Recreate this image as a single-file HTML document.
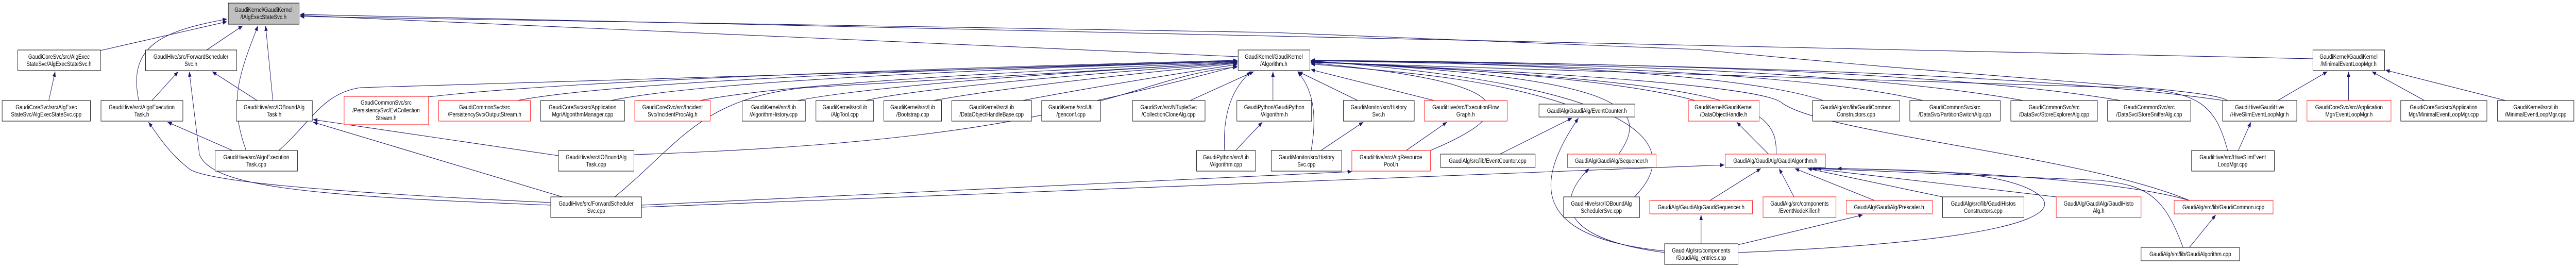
<!DOCTYPE html>
<html><head><meta charset="utf-8"><style>
html,body{margin:0;padding:0;background:#fff;width:100%;height:100%;overflow:hidden;}
svg{display:block;overflow:hidden;width:100vw;height:100vh;}
text{font-family:"Liberation Sans",Arial,sans-serif;font-size:12px;fill:#000;text-anchor:middle;}
.e{fill:none;stroke:#191970;stroke-width:1.1;marker-end:url(#a);}
.n{fill:#fff;stroke:#000;stroke-width:1;}
.r{fill:#fff;stroke:#ff0000;stroke-width:1;}
.g{fill:#bfbfbf;stroke:#000;stroke-width:1;}
</style></head><body>
<svg viewBox="0 0 6071 520" preserveAspectRatio="none" xmlns="http://www.w3.org/2000/svg">
<defs><marker id="a" markerUnits="userSpaceOnUse" markerWidth="11" markerHeight="8" refX="10" refY="4" orient="auto"><path d="M0,0 L10,4 L0,8 z" fill="#191970"/></marker></defs>
<g>
<path class="e" d="M237,98 L535,42"/>
<path class="e" d="M327,195 C300,90 380,60 535,37"/>
<path class="e" d="M487,97 L572,50"/>
<path class="e" d="M580,292 C540,200 560,150 608,50"/>
<path class="e" d="M643,195 L626,50"/>
<path class="e" d="M2918,110 L707,30"/>
<path class="e" d="M5451,114 L5000,106 L4000,88 L3000,70 L707,28"/>
<path class="e" d="M5250,195 C5200,170 4800,160 4000,96 L3000,63 L707,32"/>
<path class="e" d="M358,195 L420,139"/>
<path class="e" d="M606,195 L500,139"/>
<path class="e" d="M1298,398 C700,380 500,360 470,300 L446,139"/>
<path class="e" d="M115,195 L130,139"/>
<path class="e" d="M548,292 L395,237"/>
<path class="e" d="M1298,393 C700,370 500,350 450,330 C400,300 370,260 350,237"/>
<path class="e" d="M1325,382 L738,237"/>
<path class="e" d="M1316,302 L738,232"/>
<path class="e" d="M1449,382 C1600,280 1650,190 1900,170 L2916,121"/>
<path class="e" d="M1512,398 L3186,333"/>
<path class="e" d="M1512,402 L4064,320"/>
<path class="e" d="M1010,188 Q1400,150 2916,117"/>
<path class="e" d="M1220,195 Q1500,150 2916,118"/>
<path class="e" d="M1440,195 Q1700,150 2916,119"/>
<path class="e" d="M1650,195 Q1900,155 2916,120"/>
<path class="e" d="M1880,195 Q2100,160 2916,121"/>
<path class="e" d="M2040,195 Q2200,165 2916,122"/>
<path class="e" d="M2200,195 Q2400,165 2916,123"/>
<path class="e" d="M2410,195 Q2600,165 2916,125"/>
<path class="e" d="M2585,195 Q2750,165 2916,128"/>
<path class="e" d="M2805,195 L2955,139"/>
<path class="e" d="M657,292 C730,240 760,180 850,170 L2916,119"/>
<path class="e" d="M1494,300 C2600,270 2650,150 2916,130"/>
<path class="e" d="M2886,292 C2880,200 2920,160 2948,139"/>
<path class="e" d="M3000,195 L3000,139"/>
<path class="e" d="M3090,292 C3110,200 3080,160 3058,139"/>
<path class="e" d="M3200,195 L3060,139"/>
<path class="e" d="M3380,195 L3089,135"/>
<path class="e" d="M3371,292 C3580,220 3600,160 3089,122"/>
<path class="e" d="M3690,202 C3500,150 3300,140 3089,124"/>
<path class="e" d="M3852,382 C3950,300 3950,170 3089,118"/>
<path class="e" d="M3815,299 C3900,200 3800,150 3089,119"/>
<path class="e" d="M3995,195 C3800,150 3300,125 3089,120"/>
<path class="e" d="M4297,195 C4100,140 3500,120 3089,118"/>
<path class="e" d="M4532,195 Q4200,130 3089,118"/>
<path class="e" d="M4768,195 Q4300,125 3089,118"/>
<path class="e" d="M4998,195 Q4500,125 3089,117"/>
<path class="e" d="M5240,195 Q4700,130 3089,117"/>
<path class="e" d="M4186,299 C4190,200 4100,160 3089,120"/>
<path class="e" d="M5250,292 C5220,200 5180,175 5000,170 L3089,121"/>
<path class="e" d="M5160,389 C4900,300 4300,260 4200,200 C4150,160 3400,130 3089,121"/>
<path class="e" d="M2912,292 L2975,237"/>
<path class="e" d="M3113,292 L3213,237"/>
<path class="e" d="M3314,292 L3410,237"/>
<path class="e" d="M3535,299 L3705,229"/>
<path class="e" d="M3923,487 C3600,460 3620,350 3720,229"/>
<path class="e" d="M3923,490 C3650,460 3680,380 3745,327"/>
<path class="e" d="M4009,473 L4009,417"/>
<path class="e" d="M4096,475 L4390,417"/>
<path class="e" d="M4096,490 C4700,470 4900,420 4790,370 C4700,330 4500,330 4330,327"/>
<path class="e" d="M4030,389 L4150,327"/>
<path class="e" d="M4228,382 L4193,327"/>
<path class="e" d="M4418,389 L4230,327"/>
<path class="e" d="M4578,382 L4260,327"/>
<path class="e" d="M4846,382 L4270,327"/>
<path class="e" d="M5160,389 C5000,350 4600,330 4272,326"/>
<path class="e" d="M5145,480 C5100,380 5060,360 4950,350 L4282,327"/>
<path class="e" d="M4168,299 L4093,237"/>
<path class="e" d="M5160,480 L5222,417"/>
<path class="e" d="M5275,292 L5305,237"/>
<path class="e" d="M5368,195 L5485,139"/>
<path class="e" d="M5535,195 L5535,139"/>
<path class="e" d="M5714,195 L5590,139"/>
<path class="e" d="M5905,195 L5622,136"/>
</g>
<g>
<rect class="g" x="538" y="6" width="167" height="41"/><text x="621" y="23">GaudiKernel/GaudiKernel</text><text x="621" y="37">/IAlgExecStateSvc.h</text>
<rect class="n" x="42" y="97" width="195" height="40"/><text x="139" y="114">GaudiCoreSvc/src/AlgExec</text><text x="139" y="128">StateSvc/AlgExecStateSvc.h</text>
<rect class="n" x="343" y="97" width="215" height="40"/><text x="450" y="114">GaudiHive/src/ForwardScheduler</text><text x="450" y="128">Svc.h</text>
<rect class="n" x="5" y="195" width="208" height="40"/><text x="109" y="212">GaudiCoreSvc/src/AlgExec</text><text x="109" y="226">StateSvc/AlgExecStateSvc.cpp</text>
<rect class="n" x="238" y="195" width="193" height="40"/><text x="334" y="212">GaudiHive/src/AlgoExecution</text><text x="334" y="226">Task.h</text>
<rect class="n" x="557" y="195" width="179" height="40"/><text x="646" y="212">GaudiHive/src/IOBoundAlg</text><text x="646" y="226">Task.h</text>
<rect class="r" x="811" y="187" width="199" height="55"/><text x="910" y="203">GaudiCommonSvc/src</text><text x="910" y="218">/PersistencySvc/EvtCollection</text><text x="910" y="233">Stream.h</text>
<rect class="n" x="507" y="292" width="194" height="40"/><text x="604" y="309">GaudiHive/src/AlgoExecution</text><text x="604" y="323">Task.cpp</text>
<rect class="r" x="1034" y="195" width="216" height="40"/><text x="1142" y="212">GaudiCommonSvc/src</text><text x="1142" y="226">/PersistencySvc/OutputStream.h</text>
<rect class="n" x="1274" y="195" width="198" height="40"/><text x="1373" y="212">GaudiCoreSvc/src/Application</text><text x="1373" y="226">Mgr/AlgorithmManager.cpp</text>
<rect class="r" x="1496" y="195" width="178" height="40"/><text x="1585" y="212">GaudiCoreSvc/src/Incident</text><text x="1585" y="226">Svc/IncidentProcAlg.h</text>
<rect class="n" x="1316" y="292" width="178" height="40"/><text x="1405" y="309">GaudiHive/src/IOBoundAlg</text><text x="1405" y="323">Task.cpp</text>
<rect class="n" x="1298" y="382" width="214" height="40"/><text x="1405" y="399">GaudiHive/src/ForwardScheduler</text><text x="1405" y="413">Svc.cpp</text>
<rect class="n" x="1749" y="195" width="149" height="40"/><text x="1823" y="212">GaudiKernel/src/Lib</text><text x="1823" y="226">/AlgorithmHistory.cpp</text>
<rect class="n" x="1923" y="195" width="136" height="40"/><text x="1991" y="212">GaudiKernel/src/Lib</text><text x="1991" y="226">/AlgTool.cpp</text>
<rect class="n" x="2083" y="195" width="136" height="40"/><text x="2151" y="212">GaudiKernel/src/Lib</text><text x="2151" y="226">/Bootstrap.cpp</text>
<rect class="n" x="2243" y="195" width="188" height="40"/><text x="2337" y="212">GaudiKernel/src/Lib</text><text x="2337" y="226">/DataObjectHandleBase.cpp</text>
<rect class="n" x="2455" y="195" width="139" height="40"/><text x="2524" y="212">GaudiKernel/src/Util</text><text x="2524" y="226">/genconf.cpp</text>
<rect class="n" x="2669" y="195" width="171" height="40"/><text x="2754" y="212">GaudiSvc/src/NTupleSvc</text><text x="2754" y="226">/CollectionCloneAlg.cpp</text>
<rect class="n" x="2918" y="97" width="169" height="40"/><text x="3002" y="114">GaudiKernel/GaudiKernel</text><text x="3002" y="128">/Algorithm.h</text>
<rect class="n" x="2915" y="195" width="176" height="40"/><text x="3003" y="212">GaudiPython/GaudiPython</text><text x="3003" y="226">/Algorithm.h</text>
<rect class="n" x="2820" y="292" width="139" height="40"/><text x="2889" y="309">GaudiPython/src/Lib</text><text x="2889" y="323">/Algorithm.cpp</text>
<rect class="n" x="2996" y="292" width="166" height="40"/><text x="3079" y="309">GaudiMonitor/src/History</text><text x="3079" y="323">Svc.cpp</text>
<rect class="n" x="3166" y="195" width="167" height="40"/><text x="3249" y="212">GaudiMonitor/src/History</text><text x="3249" y="226">Svc.h</text>
<rect class="r" x="3357" y="195" width="195" height="40"/><text x="3454" y="212">GaudiHive/src/ExecutionFlow</text><text x="3454" y="226">Graph.h</text>
<rect class="n" x="3627" y="202" width="226" height="25"/><text x="3740" y="219">GaudiAlg/GaudiAlg/EventCounter.h</text>
<rect class="r" x="3186" y="292" width="185" height="40"/><text x="3278" y="309">GaudiHive/src/AlgResource</text><text x="3278" y="323">Pool.h</text>
<rect class="n" x="3395" y="299" width="223" height="26"/><text x="3506" y="316">GaudiAlg/src/lib/EventCounter.cpp</text>
<rect class="r" x="3694" y="299" width="209" height="26"/><text x="3798" y="316">GaudiAlg/GaudiAlg/Sequencer.h</text>
<rect class="n" x="3685" y="382" width="179" height="40"/><text x="3774" y="399">GaudiHive/src/IOBoundAlg</text><text x="3774" y="413">SchedulerSvc.cpp</text>
<rect class="r" x="3888" y="389" width="242" height="26"/><text x="4009" y="406">GaudiAlg/GaudiAlg/GaudiSequencer.h</text>
<rect class="n" x="3923" y="473" width="173" height="40"/><text x="4009" y="490">GaudiAlg/src/components</text><text x="4009" y="504">/GaudiAlg_entries.cpp</text>
<rect class="r" x="3979" y="195" width="167" height="40"/><text x="4062" y="212">GaudiKernel/GaudiKernel</text><text x="4062" y="226">/DataObjectHandle.h</text>
<rect class="n" x="4272" y="195" width="205" height="40"/><text x="4374" y="212">GaudiAlg/src/lib/GaudiCommon</text><text x="4374" y="226">Constructors.cpp</text>
<rect class="n" x="4501" y="195" width="213" height="40"/><text x="4607" y="212">GaudiCommonSvc/src</text><text x="4607" y="226">/DataSvc/PartitionSwitchAlg.cpp</text>
<rect class="n" x="4739" y="195" width="204" height="40"/><text x="4841" y="212">GaudiCommonSvc/src</text><text x="4841" y="226">/DataSvc/StoreExplorerAlg.cpp</text>
<rect class="n" x="4967" y="195" width="196" height="40"/><text x="5065" y="212">GaudiCommonSvc/src</text><text x="5065" y="226">/DataSvc/StoreSnifferAlg.cpp</text>
<rect class="r" x="4066" y="299" width="236" height="26"/><text x="4184" y="316">GaudiAlg/GaudiAlg/GaudiAlgorithm.h</text>
<rect class="r" x="4155" y="382" width="172" height="40"/><text x="4241" y="399">GaudiAlg/src/components</text><text x="4241" y="413">/EventNodeKiller.h</text>
<rect class="r" x="4351" y="389" width="203" height="26"/><text x="4452" y="406">GaudiAlg/GaudiAlg/Prescaler.h</text>
<rect class="n" x="4578" y="382" width="192" height="40"/><text x="4674" y="399">GaudiAlg/src/lib/GaudiHistos</text><text x="4674" y="413">Constructors.cpp</text>
<rect class="r" x="4846" y="382" width="200" height="40"/><text x="4946" y="399">GaudiAlg/GaudiAlg/GaudiHisto</text><text x="4946" y="413">Alg.h</text>
<rect class="n" x="5451" y="97" width="169" height="40"/><text x="5535" y="114">GaudiKernel/GaudiKernel</text><text x="5535" y="128">/MinimalEventLoopMgr.h</text>
<rect class="n" x="5238" y="195" width="175" height="40"/><text x="5325" y="212">GaudiHive/GaudiHive</text><text x="5325" y="226">/HiveSlimEventLoopMgr.h</text>
<rect class="r" x="5437" y="195" width="198" height="40"/><text x="5536" y="212">GaudiCoreSvc/src/Application</text><text x="5536" y="226">Mgr/EventLoopMgr.h</text>
<rect class="n" x="5658" y="195" width="203" height="40"/><text x="5759" y="212">GaudiCoreSvc/src/Application</text><text x="5759" y="226">Mgr/MinimalEventLoopMgr.cpp</text>
<rect class="n" x="5886" y="195" width="180" height="40"/><text x="5976" y="212">GaudiKernel/src/Lib</text><text x="5976" y="226">/MinimalEventLoopMgr.cpp</text>
<rect class="n" x="5165" y="292" width="195" height="40"/><text x="5262" y="309">GaudiHive/src/HiveSlimEvent</text><text x="5262" y="323">LoopMgr.cpp</text>
<rect class="r" x="5124" y="389" width="233" height="26"/><text x="5240" y="406">GaudiAlg/src/lib/GaudiCommon.icpp</text>
<rect class="n" x="5046" y="480" width="232" height="26"/><text x="5162" y="497">GaudiAlg/src/lib/GaudiAlgorithm.cpp</text>
</g>
</svg>
</body></html>
